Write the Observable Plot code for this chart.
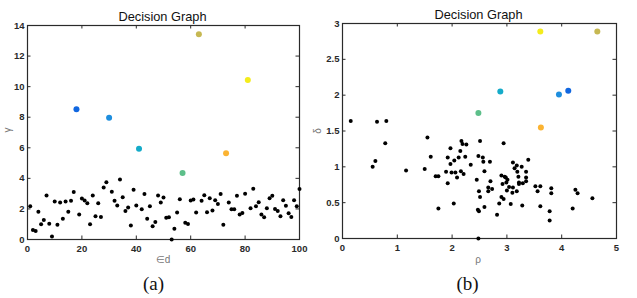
<!DOCTYPE html>
<html>
<head>
<meta charset="utf-8">
<script src="https://cdn.jsdelivr.net/npm/d3@7"></script>
<script src="https://cdn.jsdelivr.net/npm/@observablehq/plot@0.6"></script>
<style>
  html, body { margin: 0; padding: 0; background: #fff; }
  #wrap { position: relative; width: 637px; height: 298px; overflow: hidden; font-family: "Liberation Sans", Arial, sans-serif; }
  .panel { position: absolute; top: 0; }
  .lbl { position: absolute; white-space: nowrap; text-align: center; }
  .title { font-size: 12.8px; color: #111; width: 200px; line-height: 13px; }
  .axlab { font-size: 10px; color: #777; width: 40px; line-height: 10px; }
  .sub { font-family: "Liberation Serif", "Times New Roman", serif; font-size: 19px; color: #111; width: 60px; line-height: 20px; }
</style>
</head>
<body>
<div id="wrap"></div>
<script>
// ---------- data ----------
// decision value gamma (= rho * delta) for points 1..100 (panel a)
const gammaValues = [
  2.18, 0.62, 0.55, 1.82, 1.00, 1.27, 2.88, 1.03, 0.20, 2.48,
  0.97, 2.42, 1.36, 2.48, 1.82, 2.53, 3.10, 8.52, 1.63, 2.68,
  2.55, 2.37, 0.99, 2.88, 1.52, 2.37, 1.47, 3.41, 3.74, 7.96,
  3.12, 2.53, 2.22, 3.93, 2.77, 1.87, 2.09, 0.92, 3.25, 2.22,
  5.93, 1.98, 2.97, 1.36, 2.18, 0.86, 1.14, 2.88, 2.42, 2.75,
  1.43, 1.45, 0.00, 0.70, 1.76, 2.64, 4.35, 1.10, 1.01, 2.55,
  2.62, 1.76, 13.43, 2.53, 2.90, 1.78, 2.70, 1.89, 2.57, 2.33,
  2.97, 0.97, 5.65, 2.42, 1.98, 1.98, 2.86, 1.63, 1.74, 2.99,
  10.43, 2.04, 3.32, 2.18, 2.44, 1.63, 1.45, 2.04, 2.70, 2.86,
  2.00, 1.87, 1.52, 2.57, 2.20, 1.71, 1.47, 2.57, 2.18, 3.30
];

// cluster centres
const clusterIds   = ["C1", "C2", "C3", "C4", "C5", "C6", "C7"];
const centerIndex  = [18, 30, 41, 57, 63, 73, 81];
const centerRho    = [4.12, 3.95, 2.88, 2.48, 4.65, 3.62, 3.61];
const centerDelta  = [2.06, 2.01, 2.05, 1.75, 2.89, 1.55, 2.89];
const clusterColors = ["#1167e0", "#1e8ede", "#14abc9", "#5dbf8a", "#c6b852", "#fbb332", "#f4ec1c"];

// non-centre points (panel b): local density rho and distance delta
const rhoValues = [
  0.15, 0.63, 0.80, 0.78, 1.55, 1.97, 2.17, 2.19, 2.26, 2.51, 2.94,
  0.55, 0.60, 1.16, 1.50, 1.61, 1.70, 1.75, 1.75, 1.89, 1.92,
  1.92, 1.97, 1.99, 2.03, 2.04, 2.06, 2.09, 2.12, 2.15, 2.16,
  2.21, 2.24, 2.34, 2.45, 2.47, 2.48, 2.49, 2.49, 2.51, 2.48,
  2.56, 2.57, 2.59, 2.59, 2.69, 2.66, 2.66, 2.70, 2.73, 2.82,
  2.86, 2.90, 2.92, 2.90, 2.94, 2.96, 2.98, 2.99, 3.00, 3.01,
  3.04, 3.07, 3.10, 3.11, 3.11, 3.14, 3.18, 3.18, 3.19, 3.21,
  3.22, 3.22, 3.27, 3.28, 3.29, 3.35, 3.35, 3.35, 3.39, 3.52,
  3.56, 3.61, 3.61, 3.78, 3.78, 3.81, 3.81, 4.20, 4.25, 4.29, 4.56
];
const deltaValues = [
  1.64, 1.63, 1.64, 1.33, 1.41, 1.26, 1.36, 1.32, 1.31, 1.36, 1.33,
  1.00, 1.08, 0.95, 0.97, 1.14, 0.87, 0.87, 0.42, 0.93, 0.77,
  1.13, 1.04, 0.92, 0.49, 1.09, 0.92, 0.85, 1.13, 1.22, 0.94,
  0.90, 1.14, 1.03, 0.82, 0.40, 1.15, 0.66, 0.38, 0.58, 0.00,
  1.13, 1.07, 0.94, 0.44, 1.07, 0.71, 0.66, 0.80, 0.69, 0.33,
  0.49, 0.88, 0.76, 0.58, 0.55, 0.86, 0.85, 0.78, 0.67, 0.82,
  0.72, 0.48, 0.64, 1.06, 0.71, 0.98, 1.02, 0.66, 0.93, 0.86,
  0.78, 0.76, 1.00, 0.46, 0.77, 0.85, 0.93, 0.80, 1.10, 0.73,
  0.66, 0.73, 0.45, 0.38, 0.25, 0.70, 0.63, 0.42, 0.68, 0.63, 0.56
];

// tick values
const gammaXTicks = [0, 20, 40, 60, 80, 100];
const gammaYTicks = [0, 2, 4, 6, 8, 10, 12, 14];
const rhoTicks    = [0, 1, 2, 3, 4, 5];
const deltaTicks  = [0, 0.5, 1, 1.5, 2, 2.5, 3];

// ---------- tables ----------
const pointsA = gammaValues.map((g, i) => ({idx: i + 1, gamma: g}));
const blackA = pointsA.filter(d => !centerIndex.includes(d.idx));
const centersA = centerIndex.map((idx, i) => ({idx, gamma: gammaValues[idx - 1], cluster: clusterIds[i]}));
const blackB = rhoValues.map((r, i) => ({rho: r, delta: deltaValues[i]}));
const centersB = clusterIds.map((c, i) => ({rho: centerRho[i], delta: centerDelta[i], cluster: c}));

const TICK = 3.5;
const INK = "#2a2a2a";

function panel({width, height, ml, mr, mt, mb, xDomain, yDomain, xTicks, yTicks, xKey, yKey, black, centers}) {
  const iw = width - ml - mr, ih = height - mt - mb;
  return Plot.plot({
    width, height,
    marginLeft: ml, marginRight: mr, marginTop: mt, marginBottom: mb,
    x: {domain: xDomain, label: null},
    y: {domain: yDomain, label: null},
    color: {domain: clusterIds, range: clusterColors},
    style: {fontFamily: "'Liberation Sans', Arial, sans-serif", fontSize: "9.5px", fontWeight: "bold", color: INK, background: "transparent", overflow: "visible"},
    marks: [
      Plot.frame({stroke: INK, strokeWidth: 1.2}),
      // inward ticks on all four sides
      Plot.tickX(xTicks, {x: d => d, insetTop: ih - TICK, stroke: INK}),
      Plot.tickX(xTicks, {x: d => d, insetBottom: ih - TICK, stroke: INK}),
      Plot.tickY(yTicks, {y: d => d, insetRight: iw - TICK, stroke: INK}),
      Plot.tickY(yTicks, {y: d => d, insetLeft: iw - TICK, stroke: INK}),
      Plot.axisX({ticks: xTicks, tickSize: 0, tickPadding: 6, tickFormat: d => String(d), label: null}),
      Plot.axisY({ticks: yTicks, tickSize: 0, tickPadding: 3, tickFormat: d => String(d), label: null}),
      Plot.dot(black, {x: xKey, y: yKey, r: 2, fill: "#000", stroke: "none"}),
      Plot.dot(centers, {x: xKey, y: yKey, r: 3, fill: "cluster", stroke: "none"})
    ]
  });
}

const wrap = document.getElementById("wrap");

const left = panel({
  width: 318, height: 298, ml: 27, mr: 19, mt: 25, mb: 59,
  xDomain: [0, 100], yDomain: [0, 14], xTicks: gammaXTicks, yTicks: gammaYTicks,
  xKey: "idx", yKey: "gamma", black: blackA, centers: centersA
});
left.classList.add("panel");
left.style.left = "0px";
wrap.appendChild(left);

const right = panel({
  width: 319, height: 298, ml: 24, mr: 21, mt: 23, mb: 60,
  xDomain: [0, 5], yDomain: [0, 3], xTicks: rhoTicks, yTicks: deltaTicks,
  xKey: "rho", yKey: "delta", black: blackB, centers: centersB
});
right.classList.add("panel");
right.style.left = "318px";
wrap.appendChild(right);

// ---------- texts ----------
function label(text, cls, cx, top, rotate) {
  const el = document.createElement("div");
  el.className = "lbl " + cls;
  el.textContent = text;
  wrap.appendChild(el);
  const w = el.offsetWidth;
  el.style.left = (cx - w / 2) + "px";
  el.style.top = top + "px";
  if (rotate) el.style.transform = "rotate(-90deg)";
  return el;
}
label("Decision Graph", "title", 162.5, 9.5);
label("Decision Graph", "title", 478.5, 7.5);
label("\u2208d", "axlab", 163, 255);
label("\u03c1", "axlab", 478, 255);
label("\u03b3", "axlab", 8, 125, true);
label("\u03b4", "axlab", 318, 126, true);
label("(a)", "sub", 153.5, 274);
label("(b)", "sub", 467.5, 274);
</script>
</body>
</html>
